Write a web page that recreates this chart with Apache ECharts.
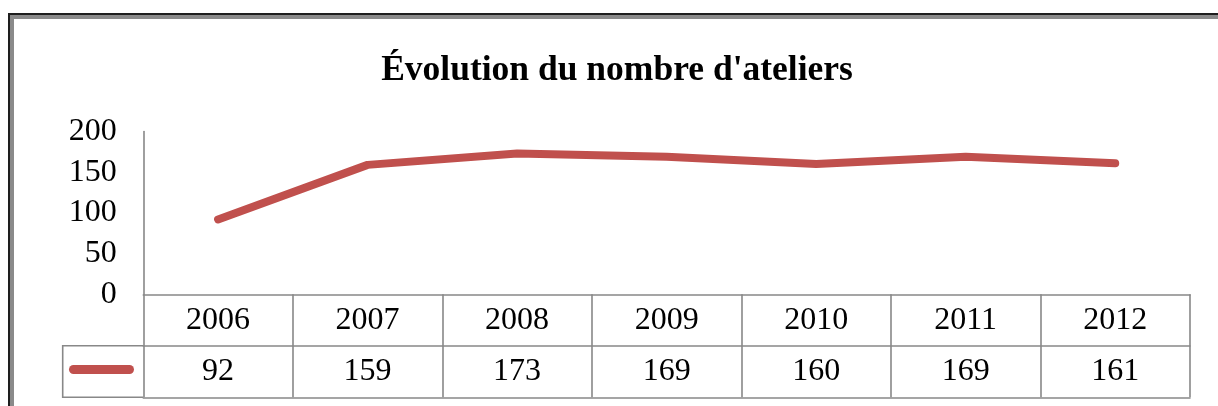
<!DOCTYPE html>
<html>
<head>
<meta charset="utf-8">
<script src="https://cdn.jsdelivr.net/npm/echarts@6/dist/echarts.min.js"></script>
<style>
html,body{margin:0;padding:0;background:#fff;}
#c{width:1218px;height:406px;}
</style>
</head>
<body>
<div id="c"></div>
<script>
var titleText = "Évolution du nombre d'ateliers";
var categories = ['2006', '2007', '2008', '2009', '2010', '2011', '2012'];
var values = [92, 159, 173, 169, 160, 169, 161];
var yTicks = [0, 50, 100, 150, 200];

var serif = "'Liberation Serif', 'Times New Roman', serif";
var gridColor = '#888888';
var lineColor = '#C0504D';

var chart = echarts.init(document.getElementById('c'), null, {renderer: 'canvas'});
var option = {
  backgroundColor: '#ffffff',
  animation: false,
  title: {
    text: titleText,
    left: 617,
    top: 53,
    padding: 0,
    textAlign: 'center',
    textStyle: {fontFamily: serif, fontWeight: 'bold', fontSize: 35.5, color: '#000'}
  },
  legend: {
    show: true,
    left: 69,
    top: 365,
    padding: 0,
    itemWidth: 65,
    itemHeight: 9,
    itemGap: 0,
    icon: 'path://M4.5,0 H60.5 A4.5,4.5 0 0 1 60.5,9 H4.5 A4.5,4.5 0 0 1 4.5,0 Z',
    formatter: function () { return ''; },
    textStyle: {fontSize: 1},
    selectedMode: false,
    data: ['Ateliers']
  },
  grid: {left: 143.3, right: 28, top: 131.5, bottom: 111.7, containLabel: false},
  xAxis: [
    {
      type: 'category',
      data: categories,
      boundaryGap: true,
      position: 'bottom',
      axisLine: {show: true, lineStyle: {color: gridColor, width: 1.6}},
      axisTick: {show: true, length: 103, lineStyle: {color: gridColor, width: 1.6}},
      axisLabel: {show: true, margin: 26, verticalAlign: 'middle', fontFamily: serif, fontSize: 32, color: '#000'},
      splitLine: {show: false}
    },
    {
      type: 'category',
      data: values.map(String),
      boundaryGap: true,
      position: 'bottom',
      offset: 51.5,
      axisLine: {show: true, lineStyle: {color: gridColor, width: 1.6}},
      axisTick: {show: false},
      axisLabel: {show: true, margin: 26, verticalAlign: 'middle', fontFamily: serif, fontSize: 32, color: '#000'},
      splitLine: {show: false}
    },
    {
      type: 'category',
      data: categories,
      boundaryGap: true,
      position: 'bottom',
      offset: 103,
      axisLine: {show: true, lineStyle: {color: gridColor, width: 1.6}},
      axisTick: {show: false},
      axisLabel: {show: false},
      splitLine: {show: false}
    }
  ],
  yAxis: {
    type: 'value',
    min: yTicks[0],
    max: yTicks[yTicks.length - 1],
    interval: yTicks[1] - yTicks[0],
    axisLine: {show: true, lineStyle: {color: gridColor, width: 1.6}},
    axisTick: {show: false},
    splitLine: {show: false},
    axisLabel: {margin: 26.6, fontFamily: serif, fontSize: 32, color: '#000'}
  },
  series: [{
    name: 'Ateliers',
    type: 'line',
    xAxisIndex: 0,
    data: values,
    symbol: 'none',
    smooth: false,
    itemStyle: {color: lineColor},
    lineStyle: {color: lineColor, width: 8, cap: 'round', join: 'round'}
  }],
  graphic: [
    {
      type: 'rect', silent: true, z: 100,
      shape: {x: 9, y: 14, width: 1400, height: 600},
      style: {fill: 'none', stroke: '#1e1e1e', lineWidth: 2}
    },
    {
      type: 'rect', silent: true, z: 100,
      shape: {x: 12, y: 17, width: 1400, height: 600},
      style: {fill: 'none', stroke: '#8a8a8a', lineWidth: 4}
    },
    {
      type: 'polyline', silent: true, z: 50,
      shape: {points: [[143.3, 345.7], [62.7, 345.7], [62.7, 397.3], [143.3, 397.3]]},
      style: {fill: 'none', stroke: gridColor, lineWidth: 1.6}
    }
  ]
};
chart.setOption(option);
</script>
</body>
</html>
